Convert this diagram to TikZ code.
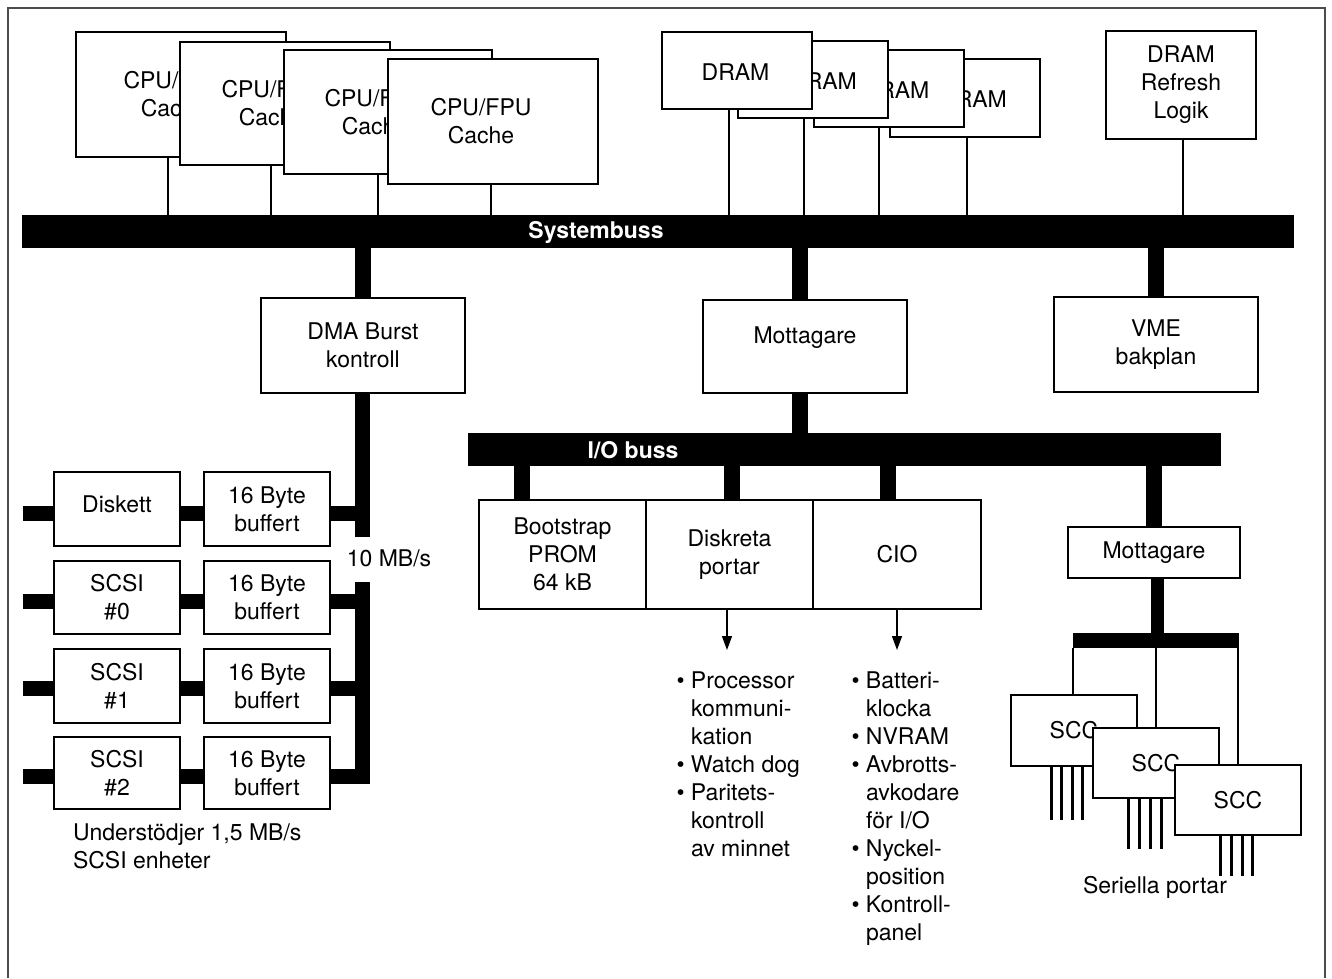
\documentclass[tikz,border=0pt]{standalone}
\usepackage{fontspec}
\setmainfont{TeX Gyre Heros}
\usetikzlibrary{arrows.meta}
\begin{document}
\begin{tikzpicture}[x=1pt,y=-1pt,
  font=\fontsize{23}{28}\selectfont,
  blk/.style={draw=black, fill=white, line width=1.4pt, inner sep=0pt, outer sep=0pt, align=center},
  cpubox/.style={blk, label={[align=center, xshift=#1]center:CPU/FPU\\Cache}},
  drambox/.style={blk, minimum width=150, label={[xshift=#1, yshift=-1.5pt]center:DRAM}},
  bus/.style={fill=black, inner sep=0pt, outer sep=0pt},
  buslabel/.style={text=white, font=\fontsize{23}{28}\selectfont\bfseries},
  wire/.style={line width=2pt},
  fat/.style={line width=16pt},
  stub/.style={line width=15pt},
  pin/.style={line width=3pt},
  arrowline/.style={line width=1.3pt, -{Triangle[length=14pt,width=10pt]}},
  frameline/.style={draw=black!70, line width=1.2pt},
  txt/.style={inner sep=0pt, outer sep=0pt, align=left},
]
\useasboundingbox (0,0) rectangle (1332,978);
\draw[frameline] (8,978) -- (8,8) -- (1325,8) -- (1325,978);

% ---------- system bus ----------
\node[bus, minimum width=1272, minimum height=33] (sysbus) at (658,231.5) {};
\node[buslabel] (syslabel) at (596,232) {Systembuss};

% processor boards, stacked (later ones in front)
\node[cpubox=-7pt, minimum width=210, minimum height=125] (cpu1) at (181,94.5) {};
\node[cpubox=-13pt, minimum width=210, minimum height=123] (cpu2) at (285,103.5) {};
\node[cpubox=-13pt, minimum width=208, minimum height=124] (cpu3) at (388,112) {};
\node[cpubox=-12pt, minimum width=210, minimum height=125] (cpu4) at (493,121.5) {};
\draw[wire] (cpu1.south -| 168,0) -- (sysbus.north -| 168,0);
\draw[wire] (cpu2.south -| 271,0) -- (sysbus.north -| 271,0);
\draw[wire] (cpu3.south -| 378,0) -- (sysbus.north -| 378,0);
\draw[wire] (cpu4.south -| 491,0) -- (sysbus.north -| 491,0);

% memory banks, stacked (first one in front)
\node[drambox=8pt, minimum height=78] (dram4) at (965,98) {};
\node[drambox=6.5pt, minimum height=77] (dram3) at (889,88.5) {};
\node[drambox=10pt, minimum height=77] (dram2) at (813,79.5) {};
\node[drambox=-1.5pt, minimum height=77] (dram1) at (737,70.5) {};
\draw[wire] (dram1.south -| 729,0) -- (sysbus.north -| 729,0);
\draw[wire] (dram2.south -| 804,0) -- (sysbus.north -| 804,0);
\draw[wire] (dram3.south -| 879,0) -- (sysbus.north -| 879,0);
\draw[wire] (dram4.south -| 967,0) -- (sysbus.north -| 967,0);

\node[blk, minimum width=150, minimum height=108] (refresh) at (1181,85) {DRAM\\Refresh\\Logik};
\draw[wire] (refresh.south -| 1183,0) -- (sysbus.north -| 1183,0);

% ---------- second level ----------
\node[blk, minimum width=204, minimum height=95] (dma) at (363,345.5) {DMA Burst\\kontroll};
\node[blk, minimum width=204, minimum height=93, label={[yshift=9pt]center:Mottagare}] (mott) at (805,346.5) {};
\node[blk, minimum width=204, minimum height=95] (vme) at (1156,344.5) {VME\\bakplan};
\draw[fat] (sysbus.south -| dma.north) -- (dma.north);
\draw[fat] (sysbus.south -| 800,0) -- (mott.north -| 800,0);
\draw[fat] (sysbus.south -| vme.north) -- (vme.north);

% ---------- I/O bus ----------
\node[bus, minimum width=753, minimum height=33] (iobus) at (844.5,449.5) {};
\node[buslabel] (iolabel) at (633,450) {I/O buss};
\draw[fat] (mott.south -| 800,0) -- (iobus.north -| 800,0);

\node[blk, minimum width=167, minimum height=109] (prom) at (562.5,554.5) {Bootstrap\\PROM\\64 kB};
\node[blk, minimum width=167, minimum height=109] (disk) at (729.5,554.5) {Diskreta\\portar};
\node[blk, minimum width=168, minimum height=109] (cio) at (897,554.5) {CIO};
\node[blk, minimum width=172, minimum height=51] (mott2) at (1154,552.5) {Mottagare};
\draw[fat] (iobus.south -| 522,0) -- (prom.north -| 522,0);
\draw[fat] (iobus.south -| 732,0) -- (disk.north -| 732,0);
\draw[fat] (iobus.south -| 888,0) -- (cio.north -| 888,0);
\draw[fat] (iobus.south -| mott2.north) -- (mott2.north);

% outputs of the discrete ports and the CIO
\coordinate (diskout) at (727,650);
\coordinate (cioout) at (897,650);
\draw[arrowline] (disk.south -| diskout) -- (diskout);
\draw[arrowline] (cio.south -| cioout) -- (cioout);

\node[txt, anchor=north west] (disklist) at (691,671.5)
  {\llap{\textbullet\ }Processor\\kommuni-\\kation\\\llap{\textbullet\ }Watch dog\\\llap{\textbullet\ }Paritets-\\kontroll\\av minnet};
\node[txt, anchor=north west] (ciolist) at (866,671.5)
  {\llap{\textbullet\ }Batteri-\\klocka\\\llap{\textbullet\ }NVRAM\\\llap{\textbullet\ }Avbrotts-\\avkodare\\för I/O\\\llap{\textbullet\ }Nyckel-\\position\\\llap{\textbullet\ }Kontroll-\\panel};

% ---------- serial channels ----------
\node[bus, minimum width=166, minimum height=15] (sccbus) at (1156,640.5) {};
\draw[fat, line width=13pt] (mott2.south -| 1157,0) -- (sccbus.north -| 1157,0);
\node[blk, minimum width=126, minimum height=71] (scc1) at (1074,730.5) {SCC};
\node[blk, minimum width=126, minimum height=70] (scc2) at (1156,763) {SCC};
\node[blk, minimum width=126, minimum height=70] (scc3) at (1238,800) {SCC};
\draw[wire] (sccbus.south -| 1073,0) -- (scc1.north -| 1073,0);
\draw[wire] (sccbus.south -| scc2.north) -- (scc2.north);
\draw[wire] (sccbus.south -| scc3.north) -- (scc3.north);
\foreach \dx in {-23,-13,-2,8} \draw[pin] (scc1.south) ++(\dx,0) -- ++(0,54);
\foreach \dx in {-28,-17,-6,5} \draw[pin] (scc2.south) ++(\dx,0) -- ++(0,51);
\foreach \dx in {-18,-7,4,14} \draw[pin] (scc3.south) ++(\dx,0) -- ++(0,41);
\node (serlabel) at (1155,887) {Seriella portar};

% ---------- DMA channels ----------
\coordinate (gaptop) at (362.5,537);
\coordinate (gapbot) at (362.5,582);
\coordinate (barend) at (362.5,783.5);
\draw[stub] (dma.south -| gaptop) -- (gaptop);
\draw[stub] (gapbot) -- (barend);
\node (rate) at (389,558) {10 MB/s};

\node[blk, minimum width=126, minimum height=74, label={[yshift=5pt]center:Diskett}] (fd) at (117,509) {};
\node[blk, minimum width=126, minimum height=74] (fdbuf) at (267,509) {16 Byte\\buffert};
\node[blk, minimum width=126, minimum height=73] (sc0) at (117,597.5) {SCSI\\\#0};
\node[blk, minimum width=126, minimum height=73] (sc0buf) at (267,597.5) {16 Byte\\buffert};
\node[blk, minimum width=126, minimum height=74] (sc1) at (117,686) {SCSI\\\#1};
\node[blk, minimum width=126, minimum height=74] (sc1buf) at (267,686) {16 Byte\\buffert};
\node[blk, minimum width=126, minimum height=72] (sc2) at (117,773) {SCSI\\\#2};
\node[blk, minimum width=126, minimum height=72] (sc2buf) at (267,773) {16 Byte\\buffert};

\coordinate (fdin) at (23,513);
\coordinate (sc0in) at (23,601);
\coordinate (sc1in) at (23,688);
\coordinate (sc2in) at (23,776);
\foreach \r/\dev/\buf in {fdin/fd/fdbuf, sc0in/sc0/sc0buf, sc1in/sc1/sc1buf, sc2in/sc2/sc2buf} {
  \draw[stub] (\r) -- (\dev.west |- \r);
  \draw[stub] (\dev.east |- \r) -- (\buf.west |- \r);
  \draw[stub] (\buf.east |- \r) -- (gaptop |- \r);
}
\node[txt, anchor=north west] (scsinote) at (73,824) {Understödjer 1,5 MB/s\\SCSI enheter};
\end{tikzpicture}
\end{document}
